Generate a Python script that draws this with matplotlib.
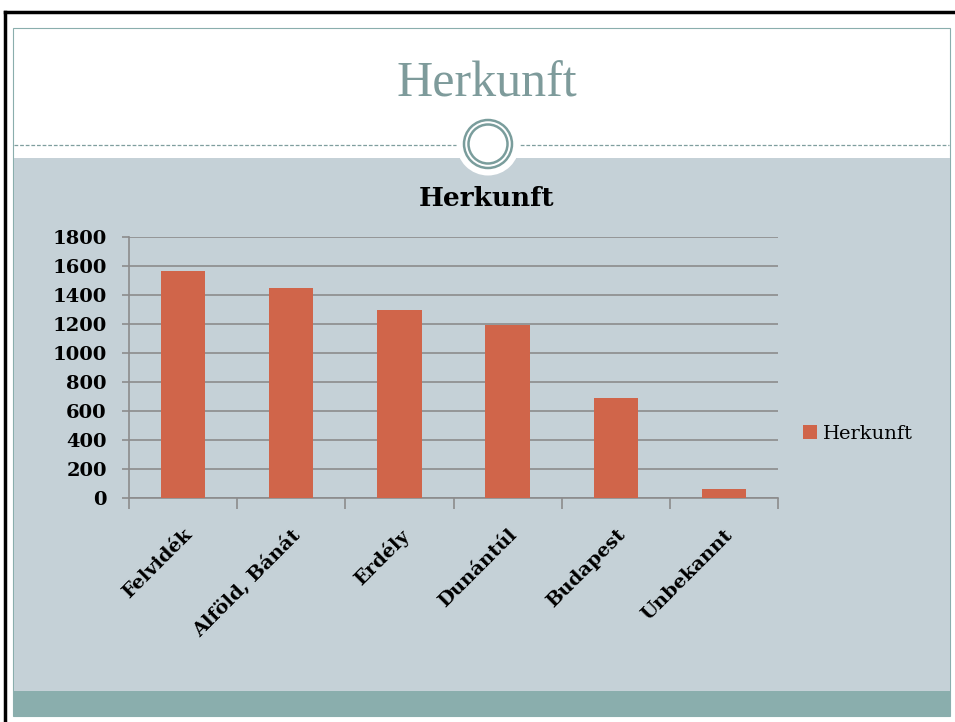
import matplotlib
matplotlib.use("Agg")
import matplotlib.pyplot as plt
from matplotlib.patches import Rectangle, Circle

categories = ["Felvidék", "Alföld, Bánát", "Erdély", "Dunántúl", "Budapest", "Unbekannt"]
values = [1565, 1450, 1295, 1195, 692, 63]
series_name = "Herkunft"
slide_title = "Herkunft"
y_ticks = [0, 200, 400, 600, 800, 1000, 1200, 1400, 1600, 1800]

W, H = 955, 722
fig = plt.figure(figsize=(W / 100, H / 100), dpi=100)
fig.patch.set_facecolor("white")


def fx(x):
    return x / W


def fy(y):
    return 1 - y / H


teal = "#8aaead"
panel = "#c5d1d7"
ring = "#7a9d9c"

# background layer drawn in pixel coords
bg = fig.add_axes([0, 0, 1, 1], zorder=0)
bg.set_xlim(0, W)
bg.set_ylim(H, 0)
bg.axis("off")
bg.plot([5, 5], [12, 722], color="black", lw=2.5)
bg.plot([5, 955], [12, 12], color="black", lw=2.5)
bg.add_patch(Rectangle((13, 28), 937, 688, facecolor="white", edgecolor=teal, lw=0.8))
bg.add_patch(Rectangle((13.5, 158), 936, 533, facecolor=panel, edgecolor="none"))
bg.add_patch(Rectangle((13.5, 691), 936, 24.5, facecolor=teal, edgecolor="none"))
bg.plot([14, 949], [145, 145], color="#7f9e9e", lw=0.9, ls=(0, (3, 1.5)))
bg.add_patch(Circle((488, 144), 31.5, facecolor="white", edgecolor="none", zorder=5))
bg.add_patch(Circle((488, 144), 24, facecolor="none", edgecolor=ring, lw=1.8, zorder=6))
bg.add_patch(Circle((488, 144), 19.5, facecolor="none", edgecolor=ring, lw=1.8, zorder=6))
bg.text(487, 84, slide_title, ha="center", va="center", fontsize=36,
        family="Liberation Serif", color="#7e9b9b")
bg.text(487, 198, "Herkunft", ha="center", va="center", fontsize=19,
        family="DejaVu Serif", fontweight="bold", color="black")

# chart
ax = fig.add_axes([fx(129), fy(498), fx(778) - fx(129), fy(237) - fy(498)], zorder=2)
ax.patch.set_alpha(0)
x = list(range(len(categories)))
ax.bar(x, values, width=0.41, color="#d0654a", zorder=3, label=series_name)
ax.set_xlim(-0.5, len(categories) - 0.5)
ax.set_ylim(0, 1800)
ax.set_yticks(y_ticks)
ax.set_yticklabels([str(t) for t in y_ticks], family="DejaVu Serif", fontweight="bold",
                   fontsize=14)
ax.grid(axis="y", color="#8c8c8c", lw=1.2, zorder=0)
gray = "#8c8c8c"
for s in ["top", "right"]:
    ax.spines[s].set_visible(False)
for s in ["left", "bottom"]:
    ax.spines[s].set_color(gray)
    ax.spines[s].set_linewidth(1.2)
ax.tick_params(axis="y", length=5, width=1.2, color=gray, pad=11)
ax.set_xticks(x)
ax.set_xticklabels(categories, rotation=45, ha="right", rotation_mode="anchor",
                   family="DejaVu Serif", fontweight="bold", fontsize=14)
ax.tick_params(axis="x", which="major", length=0, pad=20)
ax.set_xticks([i - 0.5 for i in range(len(categories) + 1)], minor=True)
ax.tick_params(axis="x", which="minor", length=8, width=1.2, color=gray)

leg = ax.legend(loc="center left", frameon=False,
                prop={"family": "DejaVu Serif", "size": 14},
                handlelength=0.7, handleheight=0.7, handletextpad=0.3,
                borderpad=0, borderaxespad=0)
leg.set_bbox_to_anchor((fx(803), fy(434) - 0.05, 0.2, 0.1), transform=fig.transFigure)

fig.savefig("out.png", dpi=100)
